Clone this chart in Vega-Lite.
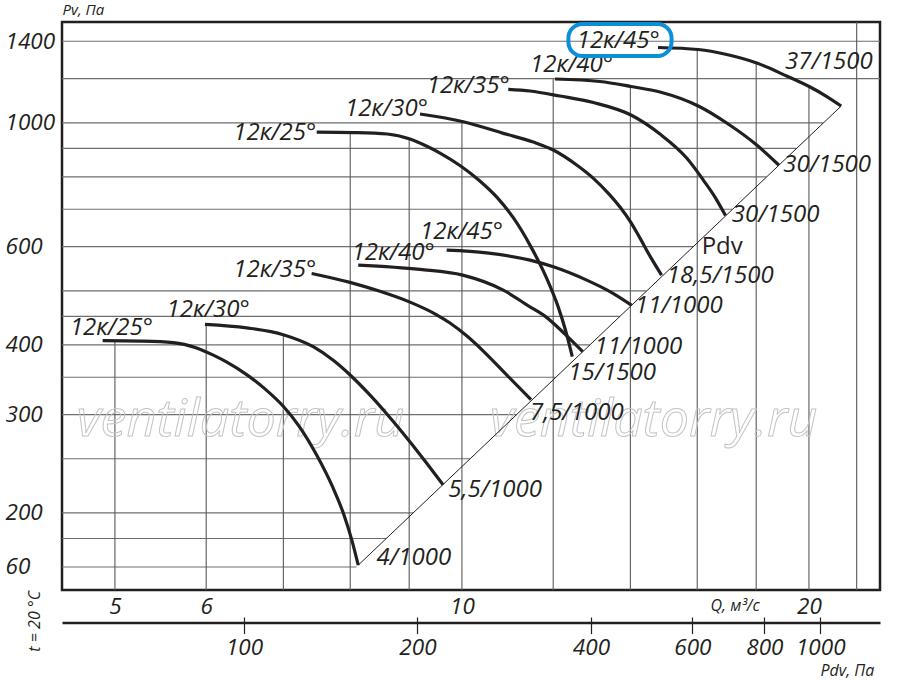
{
  "$schema": "https://vega.github.io/schema/vega-lite/v6.json",
  "width": 818,
  "height": 568,
  "autosize": {"type": "none"},
  "padding": {"left": 62, "top": 22, "right": 20, "bottom": 91},
  "background": "white",
  "config": {
    "view": {"stroke": "#231f20", "strokeWidth": 2.5},
    "text": {"font": "Open Sans", "fontStyle": "italic", "fontSize": 24, "color": "#231f20"}
  },
  "datasets": {
    "curves": [
      {"c": "L25", "Q": 4.879, "P": 407.1}, {"c": "L25", "Q": 5.256, "P": 406.3}, {"c": "L25", "Q": 5.617, "P": 403.8}, {"c": "L25", "Q": 5.878, "P": 395.5}, {"c": "L25", "Q": 6.086, "P": 383.5}, {"c": "L25", "Q": 6.242, "P": 373.3}, {"c": "L25", "Q": 6.505, "P": 353.8}, {"c": "L25", "Q": 6.747, "P": 333.6}, {"c": "L25", "Q": 6.998, "P": 310.5}, {"c": "L25", "Q": 7.225, "P": 285.9}, {"c": "L25", "Q": 7.481, "P": 254.0}, {"c": "L25", "Q": 7.724, "P": 222.6}, {"c": "L25", "Q": 7.905, "P": 197.7}, {"c": "L25", "Q": 8.027, "P": 178.6}, {"c": "L25", "Q": 8.129, "P": 161.2},
      {"c": "L30", "Q": 5.985, "P": 435.3}, {"c": "L30", "Q": 6.505, "P": 429.0}, {"c": "L30", "Q": 6.998, "P": 417.2}, {"c": "L30", "Q": 7.43, "P": 397.0}, {"c": "L30", "Q": 7.733, "P": 375.4}, {"c": "L30", "Q": 8.007, "P": 352.6}, {"c": "L30", "Q": 8.289, "P": 328.1}, {"c": "L30", "Q": 8.604, "P": 301.1}, {"c": "L30", "Q": 8.991, "P": 270.0}, {"c": "L30", "Q": 9.307, "P": 246.5}, {"c": "L30", "Q": 9.63, "P": 224.7},
      {"c": "L35", "Q": 7.407, "P": 537.2}, {"c": "L35", "Q": 7.996, "P": 517.7}, {"c": "L35", "Q": 8.489, "P": 499.0}, {"c": "L35", "Q": 9.015, "P": 477.2}, {"c": "L35", "Q": 9.508, "P": 452.9}, {"c": "L35", "Q": 9.764, "P": 437.8}, {"c": "L35", "Q": 10.095, "P": 415.3}, {"c": "L35", "Q": 10.436, "P": 390.0}, {"c": "L35", "Q": 10.935, "P": 353.5}, {"c": "L35", "Q": 11.48, "P": 319.1},
      {"c": "L40", "Q": 8.129, "P": 556.0}, {"c": "L40", "Q": 9.196, "P": 546.2}, {"c": "L40", "Q": 10.015, "P": 533.5}, {"c": "L40", "Q": 10.861, "P": 501.5}, {"c": "L40", "Q": 11.456, "P": 468.0}, {"c": "L40", "Q": 11.804, "P": 450.5}, {"c": "L40", "Q": 12.285, "P": 418.2}, {"c": "L40", "Q": 12.728, "P": 389.0},
      {"c": "L45", "Q": 9.7, "P": 591.5}, {"c": "L45", "Q": 10.506, "P": 584.9}, {"c": "L45", "Q": 11.456, "P": 567.5}, {"c": "L45", "Q": 12.002, "P": 552.1}, {"c": "L45", "Q": 12.83, "P": 522.6}, {"c": "L45", "Q": 13.441, "P": 498.4}, {"c": "L45", "Q": 14.03, "P": 471.4},
      {"c": "U25", "Q": 7.482, "P": 962.7}, {"c": "U25", "Q": 8.06, "P": 960.8}, {"c": "U25", "Q": 8.614, "P": 954.9}, {"c": "U25", "Q": 9.014, "P": 935.3}, {"c": "U25", "Q": 9.333, "P": 906.9}, {"c": "U25", "Q": 9.572, "P": 882.8}, {"c": "U25", "Q": 9.975, "P": 836.7}, {"c": "U25", "Q": 10.347, "P": 788.9}, {"c": "U25", "Q": 10.731, "P": 734.3}, {"c": "U25", "Q": 11.08, "P": 676.1}, {"c": "U25", "Q": 11.472, "P": 600.7}, {"c": "U25", "Q": 11.845, "P": 526.4}, {"c": "U25", "Q": 12.122, "P": 467.5}, {"c": "U25", "Q": 12.309, "P": 422.4}, {"c": "U25", "Q": 12.466, "P": 381.2},
      {"c": "U30", "Q": 9.196, "P": 1037.0}, {"c": "U30", "Q": 10.027, "P": 1004.5}, {"c": "U30", "Q": 10.861, "P": 957.6}, {"c": "U30", "Q": 11.532, "P": 923.8}, {"c": "U30", "Q": 12.002, "P": 893.9}, {"c": "U30", "Q": 12.576, "P": 840.2}, {"c": "U30", "Q": 13.003, "P": 795.2}, {"c": "U30", "Q": 13.441, "P": 742.0}, {"c": "U30", "Q": 13.712, "P": 706.4}, {"c": "U30", "Q": 14.008, "P": 664.0}, {"c": "U30", "Q": 14.272, "P": 621.5}, {"c": "U30", "Q": 14.56, "P": 577.0}, {"c": "U30", "Q": 14.9, "P": 533.5},
      {"c": "U35", "Q": 10.97, "P": 1148.3}, {"c": "U35", "Q": 11.456, "P": 1140.3}, {"c": "U35", "Q": 12.163, "P": 1117.0}, {"c": "U35", "Q": 13.003, "P": 1087.4}, {"c": "U35", "Q": 14.017, "P": 1032.7}, {"c": "U35", "Q": 14.853, "P": 954.8}, {"c": "U35", "Q": 15.667, "P": 864.7}, {"c": "U35", "Q": 16.195, "P": 789.7}, {"c": "U35", "Q": 16.578, "P": 736.2}, {"c": "U35", "Q": 16.93, "P": 682.1},
      {"c": "U40", "Q": 12.043, "P": 1198.2}, {"c": "U40", "Q": 13.175, "P": 1185.9}, {"c": "U40", "Q": 14.017, "P": 1161.7}, {"c": "U40", "Q": 14.853, "P": 1135.6}, {"c": "U40", "Q": 16.034, "P": 1071.8}, {"c": "U40", "Q": 16.97, "P": 999.2}, {"c": "U40", "Q": 18.019, "P": 912.4}, {"c": "U40", "Q": 18.83, "P": 840.2},
      {"c": "U45", "Q": 14.794, "P": 1364.6}, {"c": "U45", "Q": 16.034, "P": 1353.3}, {"c": "U45", "Q": 16.97, "P": 1325.7}, {"c": "U45", "Q": 18.019, "P": 1280.0}, {"c": "U45", "Q": 19.131, "P": 1213.1}, {"c": "U45", "Q": 20.047, "P": 1159.3}, {"c": "U45", "Q": 20.727, "P": 1114.7}, {"c": "U45", "Q": 21.33, "P": 1071.8}
    ],
    "pdvline": [{"Q": 8.129, "P": 161.2}, {"Q": 21.33, "P": 1071.8}],
    "hgrid": [
      {"P": 160, "Q1": 4.4985, "Q2": 8.1}, {"P": 180, "Q1": 4.4985, "Q2": 8.6}, {"P": 200, "Q1": 4.4985, "Q2": 9.07}, {"P": 250, "Q1": 4.4985, "Q2": 10.16}, {"P": 300, "Q1": 4.4985, "Q2": 11.15}, {"P": 350, "Q1": 4.4985, "Q2": 12.06}, {"P": 400, "Q1": 4.4985, "Q2": 12.91}, {"P": 450, "Q1": 4.4985, "Q2": 13.71}, {"P": 500, "Q1": 4.4985, "Q2": 14.46}, {"P": 600, "Q1": 4.4985, "Q2": 15.87}, {"P": 700, "Q1": 4.4985, "Q2": 17.16}, {"P": 800, "Q1": 4.4985, "Q2": 18.37}, {"P": 900, "Q1": 4.4985, "Q2": 19.5}, {"P": 1000, "Q1": 4.4985, "Q2": 20.57}, {"P": 1200, "Q1": 4.4985, "Q2": 23.05}, {"P": 1400, "Q1": 4.4985, "Q2": 23.05}
    ],
    "vgrid": [
      {"Q": 5, "P1": 145.5, "P2": 407}, {"Q": 6, "P1": 145.5, "P2": 435}, {"Q": 7, "P1": 145.5, "P2": 417}, {"Q": 8, "P1": 145.5, "P2": 961}, {"Q": 9, "P1": 145.5, "P2": 935}, {"Q": 10, "P1": 145.5, "P2": 1006}, {"Q": 12, "P1": 145.5, "P2": 1198}, {"Q": 14, "P1": 145.5, "P2": 1162}, {"Q": 16, "P1": 145.5, "P2": 1354}, {"Q": 18, "P1": 145.5, "P2": 1280}, {"Q": 20, "P1": 145.5, "P2": 1161}, {"Q": 22, "P1": 145.5, "P2": 1516}
    ],
    "labels": [
      {"Q": 4.57, "P": 428.7, "t": "12к/25°"}, {"Q": 5.544, "P": 461.8, "t": "12к/30°"}, {"Q": 6.333, "P": 544.6, "t": "12к/35°"}, {"Q": 8.023, "P": 584.2, "t": "12к/40°"}, {"Q": 9.196, "P": 637.2, "t": "12к/45°"},
      {"Q": 6.333, "P": 958.7, "t": "12к/25°"}, {"Q": 7.916, "P": 1058.6, "t": "12к/30°"}, {"Q": 9.32, "P": 1164.0, "t": "12к/35°"}, {"Q": 11.456, "P": 1269.5, "t": "12к/40°"}, {"Q": 12.576, "P": 1404.5, "t": "12к/45°"},
      {"Q": 8.433, "P": 165.9, "t": "4/1000"}, {"Q": 9.731, "P": 219.7, "t": "5,5/1000"}, {"Q": 11.456, "P": 301.8, "t": "7,5/1000"}, {"Q": 12.367, "P": 356.7, "t": "15/1500"}, {"Q": 13.033, "P": 396.3, "t": "11/1000"}, {"Q": 14.129, "P": 470.4, "t": "11/1000"}, {"Q": 15.056, "P": 531.3, "t": "18,5/1500"}, {"Q": 17.141, "P": 683.5, "t": "30/1500"}, {"Q": 19.002, "P": 840.2, "t": "30/1500"}, {"Q": 19.067, "P": 1286.9, "t": "37/1500"}
    ],
    "pdvlabel": [{"Q": 16.143, "P": 599.6, "t": "Pdv"}],
    "note": [{"Q": 4.262, "P": 127.9, "t": "t = 20 °C"}],
    "watermark": [{"Q": 4.632, "P": 274.5, "t": "ventilatorry.ru"}, {"Q": 10.576, "P": 274.5, "t": "ventilatorry.ru"}],
    "highlight": [{"Q1": 12.37, "Q2": 15.2, "P1": 1318, "P2": 1503}],
    "pdvticks": [{"Pdv": 100}, {"Pdv": 200}, {"Pdv": 400}, {"Pdv": 600}, {"Pdv": 800}, {"Pdv": 1000}]
  },
  "resolve": {"scale": {"x": "independent"}, "axis": {"x": "independent"}},
  "layer": [
    {
      "layer": [
        {
          "data": {"name": "hgrid"},
          "mark": {"type": "rule", "color": "#6d6e71", "strokeWidth": 1.1},
          "encoding": {
            "x": {"field": "Q1", "type": "quantitative", "scale": {"type": "log", "domain": [4.4985, 23.05], "nice": false},
              "axis": {"orient": "bottom", "values": [5, 6, 10, 20], "grid": false, "domain": false, "ticks": false, "tickSize": 0, "labelPadding": 5, "labelBaseline": "top", "labelFont": "Open Sans", "labelFontStyle": "italic", "labelFontSize": 22.5, "labelColor": "#231f20", "labelExpr": "format(datum.value, 'd')", "labelFlush": false, "labelOverlap": false,
                "title": "Q, м³/с", "titleX": 648, "titleY": 20, "titleAlign": "left", "titleAnchor": "start", "titleBaseline": "alphabetic", "titleAngle": 0, "titleFont": "Open Sans", "titleFontStyle": "italic", "titleFontWeight": "normal", "titleFontSize": 16, "titleColor": "#231f20"}},
            "x2": {"field": "Q2"},
            "y": {"field": "P", "type": "quantitative", "scale": {"type": "log", "domain": [145.5, 1516], "nice": false},
              "axis": {"orient": "left", "values": [160, 200, 300, 400, 600, 1000, 1400], "grid": false, "domain": false, "ticks": false, "tickSize": 0, "labelPadding": 57, "labelAlign": "left", "labelBaseline": "middle", "labelFont": "Open Sans", "labelFontStyle": "italic", "labelFontSize": 22.5, "labelColor": "#231f20", "labelExpr": "datum.value == 160 ? '60' : format(datum.value, 'd')", "labelFlush": false, "labelOverlap": false,
                "title": "Pv, Па", "titleX": 0, "titleY": -8, "titleAlign": "left", "titleAnchor": "start", "titleBaseline": "alphabetic", "titleAngle": 0, "titleFont": "Open Sans", "titleFontStyle": "italic", "titleFontWeight": "normal", "titleFontSize": 15, "titleColor": "#231f20"}}
          }
        },
        {
          "data": {"name": "vgrid"},
          "mark": {"type": "rule", "color": "#58595b", "strokeWidth": 1.1},
          "encoding": {
            "x": {"field": "Q", "type": "quantitative", "scale": {"type": "log", "domain": [4.4985, 23.05], "nice": false}},
            "y": {"field": "P1", "type": "quantitative", "scale": {"type": "log", "domain": [145.5, 1516], "nice": false}},
            "y2": {"field": "P2"}
          }
        },
        {
          "data": {"name": "watermark"},
          "mark": {"type": "text", "align": "left", "baseline": "alphabetic", "fontSize": 52, "fontStyle": "italic", "fillOpacity": 0, "stroke": "#c3c4c6", "strokeWidth": 1},
          "encoding": {
            "x": {"field": "Q", "type": "quantitative", "scale": {"type": "log", "domain": [4.4985, 23.05], "nice": false}},
            "y": {"field": "P", "type": "quantitative", "scale": {"type": "log", "domain": [145.5, 1516], "nice": false}},
            "text": {"field": "t"}
          }
        },
        {
          "data": {"name": "curves"},
          "mark": {"type": "line", "color": "#231f20", "strokeWidth": 3.2, "interpolate": "monotone"},
          "encoding": {
            "x": {"field": "Q", "type": "quantitative", "scale": {"type": "log", "domain": [4.4985, 23.05], "nice": false}},
            "y": {"field": "P", "type": "quantitative", "scale": {"type": "log", "domain": [145.5, 1516], "nice": false}},
            "detail": {"field": "c"}
          }
        },
        {
          "data": {"name": "pdvline"},
          "mark": {"type": "line", "color": "#231f20", "strokeWidth": 1},
          "encoding": {
            "x": {"field": "Q", "type": "quantitative", "scale": {"type": "log", "domain": [4.4985, 23.05], "nice": false}},
            "y": {"field": "P", "type": "quantitative", "scale": {"type": "log", "domain": [145.5, 1516], "nice": false}}
          }
        },
        {
          "data": {"name": "labels"},
          "mark": {"type": "text", "align": "left", "baseline": "middle"},
          "encoding": {
            "x": {"field": "Q", "type": "quantitative", "scale": {"type": "log", "domain": [4.4985, 23.05], "nice": false}},
            "y": {"field": "P", "type": "quantitative", "scale": {"type": "log", "domain": [145.5, 1516], "nice": false}},
            "text": {"field": "t"}
          }
        },
        {
          "data": {"name": "pdvlabel"},
          "mark": {"type": "text", "align": "left", "baseline": "middle", "fontStyle": "normal", "fontSize": 24},
          "encoding": {
            "x": {"field": "Q", "type": "quantitative", "scale": {"type": "log", "domain": [4.4985, 23.05], "nice": false}},
            "y": {"field": "P", "type": "quantitative", "scale": {"type": "log", "domain": [145.5, 1516], "nice": false}},
            "text": {"field": "t"}
          }
        },
        {
          "data": {"name": "note"},
          "mark": {"type": "text", "align": "center", "baseline": "middle", "angle": 270, "fontSize": 16},
          "encoding": {
            "x": {"field": "Q", "type": "quantitative", "scale": {"type": "log", "domain": [4.4985, 23.05], "nice": false}},
            "y": {"field": "P", "type": "quantitative", "scale": {"type": "log", "domain": [145.5, 1516], "nice": false}},
            "text": {"field": "t"}
          }
        },
        {
          "data": {"name": "highlight"},
          "mark": {"type": "rect", "fillOpacity": 0, "stroke": "#0a8fd8", "strokeWidth": 4, "cornerRadius": 14},
          "encoding": {
            "x": {"field": "Q1", "type": "quantitative", "scale": {"type": "log", "domain": [4.4985, 23.05], "nice": false}},
            "x2": {"field": "Q2"},
            "y": {"field": "P1", "type": "quantitative", "scale": {"type": "log", "domain": [145.5, 1516], "nice": false}},
            "y2": {"field": "P2"}
          }
        }
      ]
    },
    {
      "data": {"name": "pdvticks"},
      "mark": {"type": "point", "opacity": 0},
      "encoding": {
        "x": {"field": "Pdv", "type": "quantitative", "scale": {"type": "log", "domain": [48.33, 1269.6], "nice": false},
          "axis": {"orient": "bottom", "offset": 27, "values": [100, 200, 400, 600, 800, 1000], "grid": false, "domain": false, "ticks": true, "tickSize": 16.6, "tickWidth": 1.2, "tickColor": "#231f20", "labelPadding": 3, "labelBaseline": "top", "labelFont": "Open Sans", "labelFontStyle": "italic", "labelFontSize": 22.5, "labelColor": "#231f20", "labelExpr": "format(datum.value, 'd')", "labelFlush": false, "labelOverlap": false,
            "title": "Pdv, Па", "titleX": 758, "titleY": 58, "titleAlign": "left", "titleAnchor": "start", "titleBaseline": "alphabetic", "titleAngle": 0, "titleFont": "Open Sans", "titleFontStyle": "italic", "titleFontWeight": "normal", "titleFontSize": 16, "titleColor": "#231f20"}}
      }
    },
    {
      "data": {"name": "pdvticks"},
      "mark": {"type": "point", "opacity": 0},
      "encoding": {
        "x": {"field": "Pdv", "type": "quantitative", "scale": {"type": "log", "domain": [48.33, 1269.6], "nice": false},
          "axis": {"orient": "bottom", "offset": 32.6, "grid": false, "domain": true, "domainWidth": 2.5, "domainColor": "#231f20", "ticks": false, "labels": false, "title": null}}
      }
    }
  ]
}
